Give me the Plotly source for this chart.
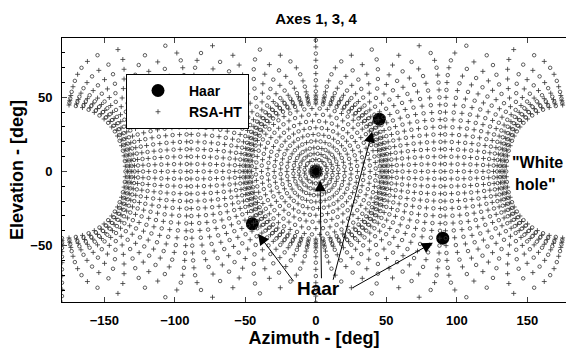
import numpy as np
import plotly.graph_objects as go

# ---------------- data ----------------
# Haar directions (azimuth, elevation) in degrees
haar_az = [0.0, 45.0, -45.0, 90.0]
haar_el = [0.0, 35.26, -35.26, -45.0]

# RSA-HT sampling read as rings around the +x axis (angle from axis, deg)
inner_ring_theta = [4, 8, 12, 16, 20.5, 25, 29.5, 34, 38.5, 42.5]
inner_ring_count = [14, 22, 30, 36, 40, 44, 48, 52, 56, 60]
outer_ring_theta = [45.5, 47, 48.5, 50, 51.5, 54, 57.5, 61.5, 66, 70.5, 75, 79.5,
                    84, 88.5, 91.5, 96, 100.5, 105, 109.5, 114, 118.5, 122.5,
                    126, 128.5, 130.5, 132, 133.5, 135]
outer_ring_count = 72

x_ticks = [-150, -100, -50, 0, 50, 100, 150]
y_ticks = [-50, 0, 50]

# Haar annotation arrows: (tip az, tip el, tail az, tail el)
arrow_tip_az = [-41, 3, 40, 83]
arrow_tip_el = [-42, -6, 27, -48]
arrow_tail_az = [-15, 4, 12, 25]
arrow_tail_el = [-75, -73, -74, -79]


def ring_points(theta_deg, n, offset):
    th = np.radians(theta_deg)
    phi = np.radians(offset + 360.0 * np.arange(n) / n)
    x = np.cos(th) * np.ones(n)
    y = np.sin(th) * np.cos(phi)
    z = np.sin(th) * np.sin(phi)
    az = np.degrees(np.arctan2(y, x))
    el = np.degrees(np.arcsin(np.clip(z, -1, 1)))
    return az, el


rsa_az, rsa_el, rsa_sym = [], [], []
for k, (t, n) in enumerate(zip(inner_ring_theta, inner_ring_count)):
    a, e = ring_points(t, n, (k % 2) * 180.0 / n)
    rsa_az += list(a)
    rsa_el += list(e)
    rsa_sym += ["cross-thin-open" if (k + j) % 2 == 0 else "circle-open" for j in range(n)]
for k, t in enumerate(outer_ring_theta):
    a, e = ring_points(t, outer_ring_count, 0.0)
    rsa_az += list(a)
    rsa_el += list(e)
    rsa_sym += ["cross-thin-open" if (k + j) % 2 == 0 else "circle-open"
                for j in range(outer_ring_count)]

FONT = "Liberation Sans"

fig = go.Figure()
fig.add_trace(go.Scatter(
    x=haar_az, y=haar_el, mode="markers", name="Haar",
    marker=dict(size=13, color="black", symbol="circle"),
))
fig.add_trace(go.Scatter(
    x=rsa_az, y=rsa_el, mode="markers", name="RSA-HT",
    marker=dict(size=3.5, color="#333333", symbol=rsa_sym,
                line=dict(width=0.8, color="#333333")),
))

for tx, ty, sx, sy in zip(arrow_tip_az, arrow_tip_el, arrow_tail_az, arrow_tail_el):
    fig.add_annotation(x=tx, y=ty, ax=sx, ay=sy, xref="x", yref="y",
                       axref="x", ayref="y", showarrow=True, arrowhead=2,
                       arrowsize=2.2, arrowwidth=1, arrowcolor="black", text="")

fig.add_annotation(x=2, y=-79, xref="x", yref="y", text="Haar", showarrow=False,
                   font=dict(family=FONT, size=19, color="black", weight="bold"))
fig.add_annotation(x=137.5, y=6, xref="x", yref="y", text='"White', showarrow=False,
                   xanchor="left", font=dict(family=FONT, size=16, color="black", weight="bold"))
fig.add_annotation(x=140, y=-9, xref="x", yref="y", text='hole"', showarrow=False,
                   xanchor="left", font=dict(family=FONT, size=16, color="black", weight="bold"))

fig.update_layout(
    width=566, height=349,
    margin=dict(l=62, r=0, t=38, b=47),
    paper_bgcolor="white", plot_bgcolor="white",
    font=dict(family=FONT, color="black", size=13, weight="bold"),
    title=dict(text="Axes 1, 3, 4", x=0.504, xref="paper", y=1 - 19 / 349,
               yref="container", xanchor="center", yanchor="middle",
               font=dict(family=FONT, size=15, color="black", weight="bold")),
    showlegend=True,
    legend=dict(x=0.127, y=0.864, xanchor="left", yanchor="top",
                bgcolor="white", bordercolor="black", borderwidth=1,
                font=dict(family=FONT, size=14, color="black", weight="bold"),
                itemsizing="trace", itemwidth=52, tracegroupgap=2),
    xaxis=dict(range=[-180, 177.4], tickvals=x_ticks, ticks="inside", ticklen=5,
               showline=True, linecolor="black", linewidth=1, mirror="ticks",
               showgrid=False, zeroline=False, ticklabelstandoff=6,
               title=dict(text="Azimuth - [deg]", standoff=2,
                          font=dict(family=FONT, size=18, color="black", weight="bold")),
               tickfont=dict(family=FONT, size=13, color="black", weight="bold")),
    yaxis=dict(range=[-88, 90], tickvals=y_ticks, ticks="inside", ticklen=5,
               minor=dict(dtick=10, ticks="inside", ticklen=3, tickcolor="black"),
               showline=True, linecolor="black", linewidth=1, mirror=False,
               showgrid=False, zeroline=False, ticklabelstandoff=6,
               title=dict(text="Elevation - [deg]", standoff=2,
                          font=dict(family=FONT, size=18, color="black", weight="bold")),
               tickfont=dict(family=FONT, size=13, color="black", weight="bold")),
)

fig.write_html("out.html")
